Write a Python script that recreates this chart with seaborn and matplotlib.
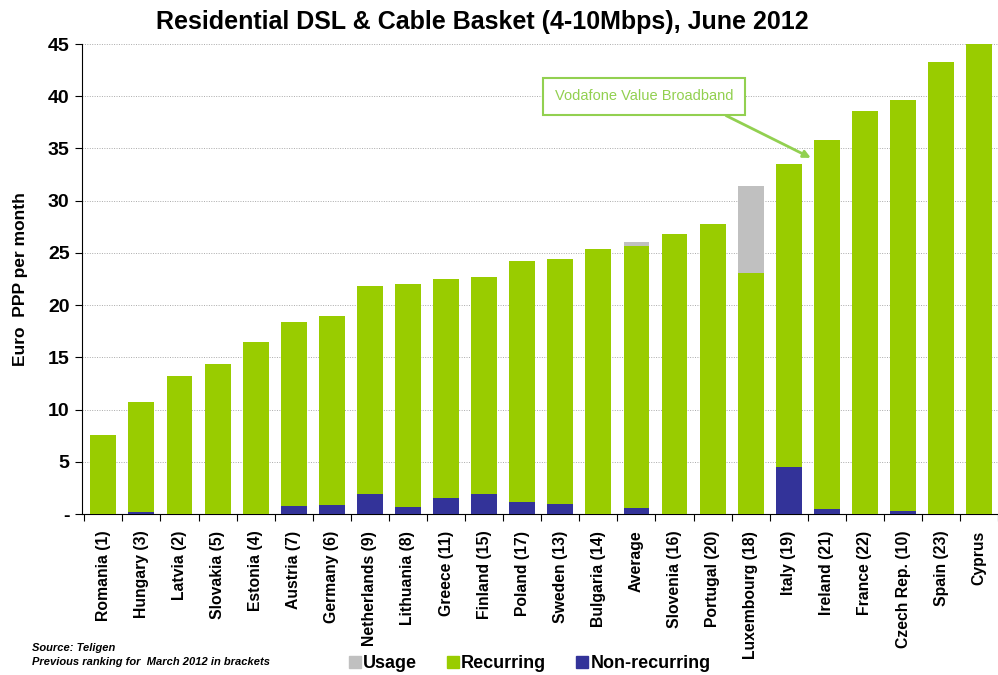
import numpy as np
import matplotlib.pyplot as plt
import pandas as pd
import seaborn as sns
from matplotlib.lines import Line2D

# Dati
countries = ['Romania (1)', 'Hungary (3)', 'Latvia (2)', 'Slovakia (5)', 'Estonia (4)',
             'Austria (7)', 'Germany (6)', 'Netherlands (9)', 'Lithuania (8)', 'Greece (11)',
             'Finland (15)', 'Poland (17)', 'Sweden (13)', 'Bulgaria (14)', 'Average',
             'Slovenia (16)', 'Portugal (20)', 'Luxembourg (18)', 'Italy (19)', 'Ireland (21)',
             'France (22)', 'Czech Rep. (10)', 'Spain (23)', 'Cyprus']
non_recurring = [0.0, 0.2, 0.0, 0.0, 0.0, 0.8, 0.9, 1.9, 0.7, 1.5,
                 1.9, 1.15, 1.0, 0.0, 0.6, 0.0, 0.0, 0.0, 4.5, 0.45,
                 0.0, 0.25, 0.0, 0.0]
recurring = [7.6, 10.5, 13.2, 14.4, 16.5, 17.6, 18.1, 19.9, 21.3, 21.0,
             20.8, 23.05, 23.4, 25.4, 25.1, 26.8, 27.8, 23.1, 29.0, 35.35,
             38.6, 39.35, 43.3, 45.0]
usage = [0, 0, 0, 0, 0, 0, 0, 0, 0, 0,
         0, 0, 0, 0, 0.3, 0, 0, 8.3, 0, 0,
         0, 0, 0, 0]

df = pd.DataFrame({'country': countries, 'nonrec': non_recurring,
                   'rec': recurring, 'usage': usage})
df['lower'] = df['nonrec'] + df['rec']
df['total'] = df['lower'] + df['usage']

c_usage = '#c0c0c0'
c_rec = '#99cc00'
c_nonrec = '#333399'

sns.set_style('white')
plt.rcParams['font.family'] = ['Liberation Sans', 'DejaVu Sans']
plt.rcParams['text.color'] = 'black'
plt.rcParams['xtick.color'] = 'black'
plt.rcParams['ytick.color'] = 'black'
plt.rcParams['axes.labelcolor'] = 'black'

fig = plt.figure(figsize=(9.98, 6.75), dpi=100)
ax = fig.add_axes([0.0822, 0.2385, 0.918, 0.6963])

# Barre impilate (dall'alto verso il basso)
sns.barplot(data=df, x='country', y='total', color=c_usage, width=0.68,
            saturation=1, linewidth=0, ax=ax, zorder=2)
sns.barplot(data=df, x='country', y='lower', color=c_rec, width=0.68,
            saturation=1, linewidth=0, ax=ax, zorder=3)
sns.barplot(data=df, x='country', y='nonrec', color=c_nonrec, width=0.68,
            saturation=1, linewidth=0, ax=ax, zorder=4)

ax.set_ylim(0, 45)
ax.set_xlim(-0.56, 23.35)
ax.set_yticks(range(0, 46, 5))
ax.set_yticklabels(['-'] + [str(v) for v in range(5, 46, 5)],
                   fontsize=14, fontweight='bold')
ax.yaxis.grid(True, linestyle=(0, (1, 1.5)), color='#aaaaaa', linewidth=0.7, zorder=0)
ax.set_axisbelow(True)
ax.tick_params(axis='y', length=5, width=0.8, direction='out', left=True, pad=4)

ax.set_xticks(range(len(countries)))
ax.set_xticklabels(countries, rotation=90, fontsize=11.3, fontweight='bold')
ax.tick_params(axis='x', which='major', length=0, pad=12)
ax.set_xticks(np.arange(-0.5, len(countries), 1), minor=True)
ax.tick_params(axis='x', which='minor', length=5, width=0.8, direction='out', bottom=True)

ax.set_xlabel('')
ax.set_ylabel('Euro  PPP per month', fontsize=12.5, fontweight='bold', labelpad=14)

for s in ['top', 'right']:
    ax.spines[s].set_visible(False)
for s in ['left', 'bottom']:
    ax.spines[s].set_color('black')
    ax.spines[s].set_linewidth(0.8)

fig.text(0.483, 0.967, 'Residential DSL & Cable Basket (4-10Mbps), June 2012',
         ha='center', va='center', fontsize=18, fontweight='bold')

# Annotazione Vodafone
ax.annotate('Vodafone Value Broadband', xy=(18.58, 34.1), xytext=(14.2, 40.0),
            ha='center', va='center', fontsize=10.5, color='#92d050',
            bbox=dict(boxstyle='square,pad=0.8', fc='white', ec='#92d050', lw=1.5),
            arrowprops=dict(arrowstyle='-|>', color='#92d050', lw=2,
                            relpos=(0.82, 0.0), shrinkA=0, shrinkB=0),
            zorder=6)

# Note
fig.text(0.032, 0.036, 'Source: Teligen', fontsize=8, fontstyle='italic', fontweight='bold')
fig.text(0.032, 0.015, 'Previous ranking for  March 2012 in brackets',
         fontsize=8, fontstyle='italic', fontweight='bold')

# Legenda
handles = [Line2D([], [], marker='s', linestyle='', markersize=9,
                  markerfacecolor=c, markeredgecolor=c) for c in (c_usage, c_rec, c_nonrec)]
leg = fig.legend(handles, ['Usage', 'Recurring', 'Non-recurring'], loc='lower center',
                 bbox_to_anchor=(0.53, -0.02), ncol=3, frameon=False,
                 handletextpad=0.05, columnspacing=1.6, handlelength=0.8,
                 prop={'weight': 'bold', 'size': 13})

fig.savefig('out.png', dpi=100)
